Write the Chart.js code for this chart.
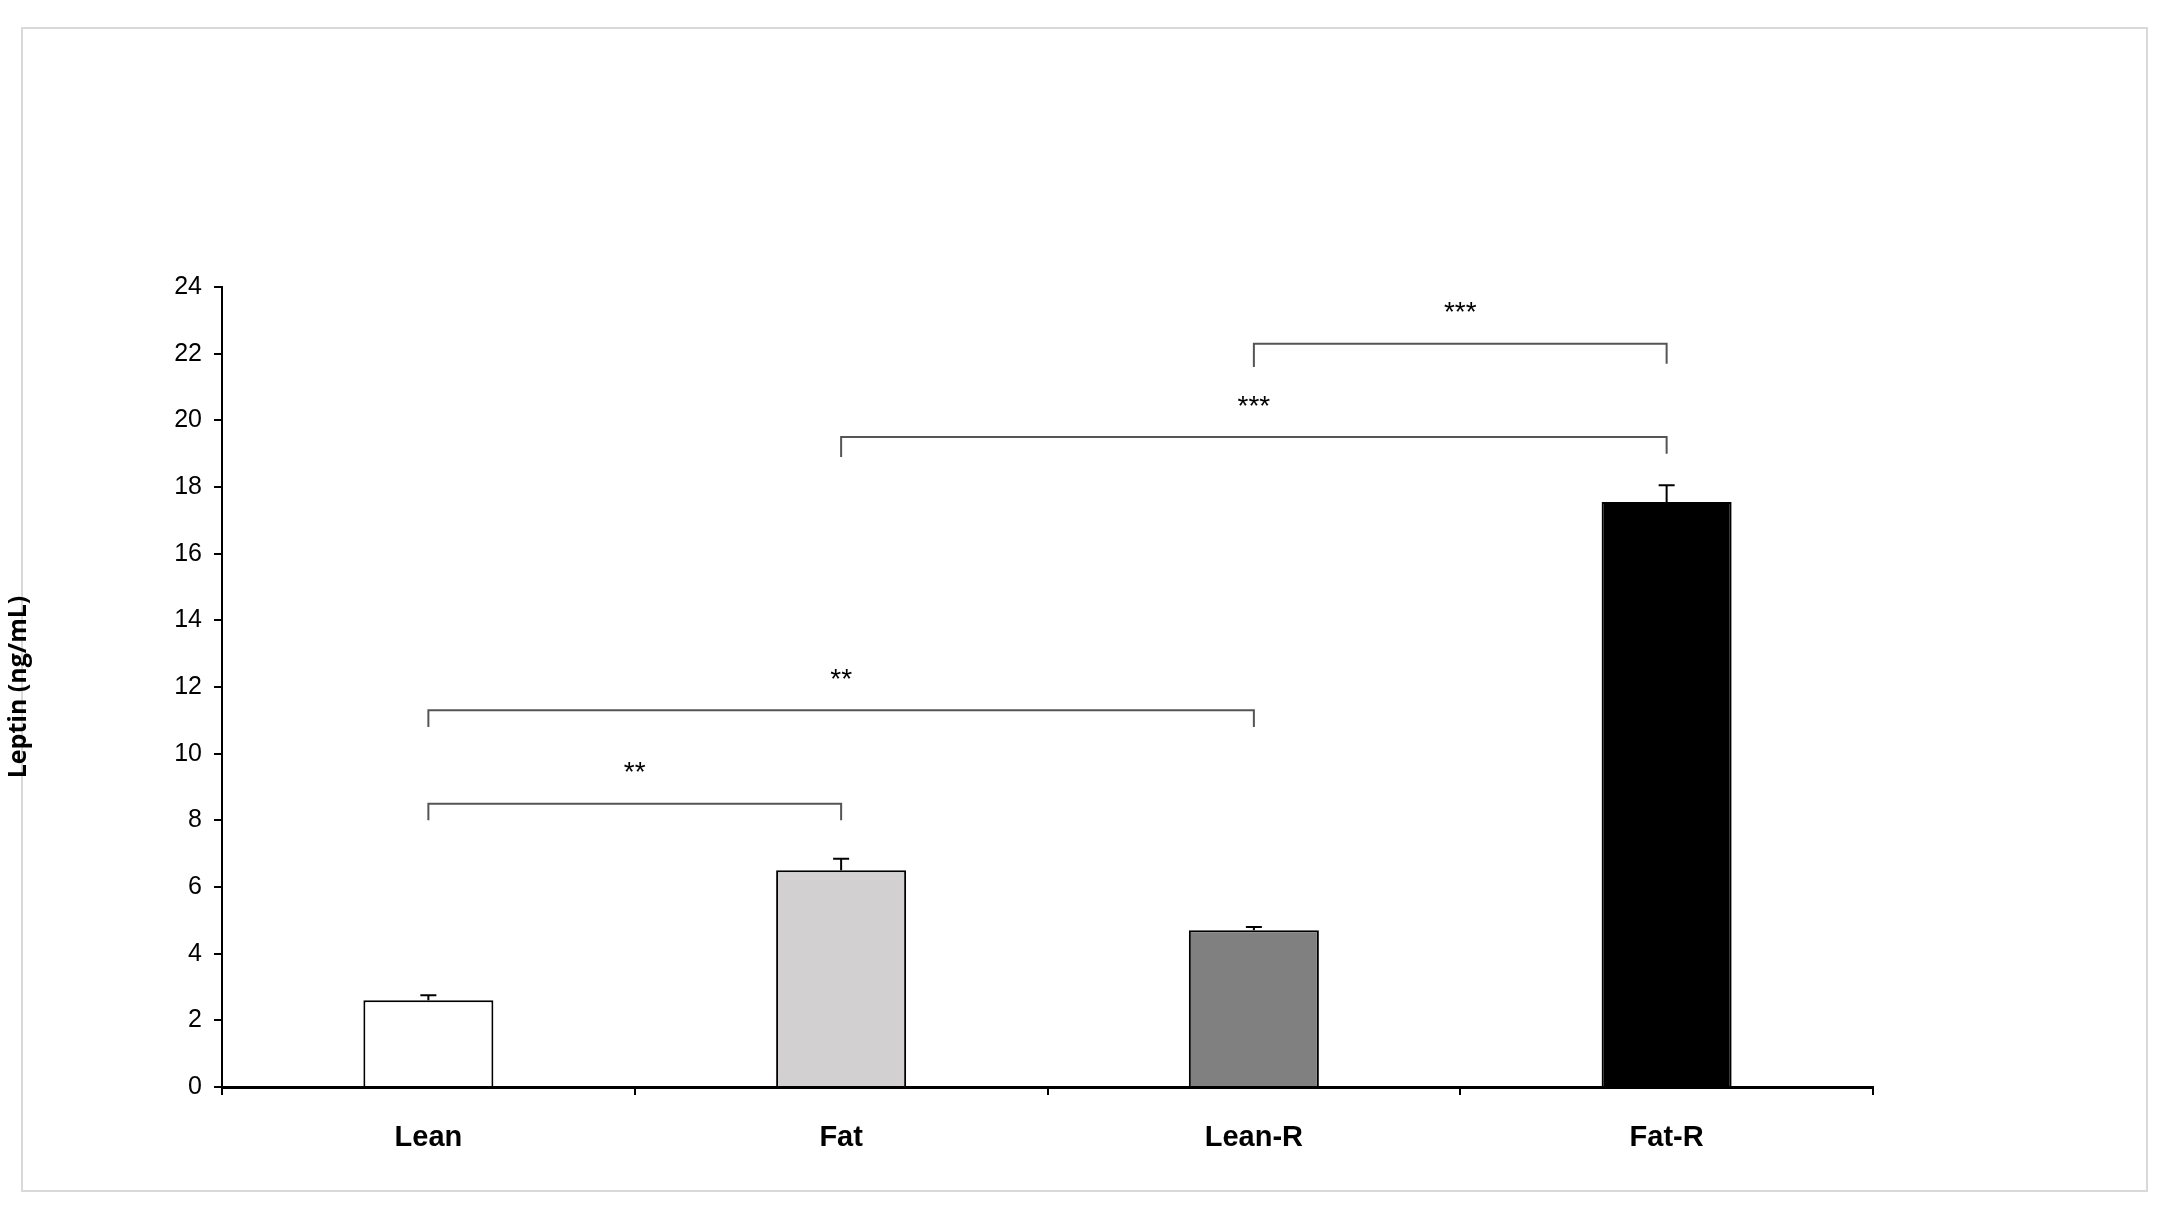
<!DOCTYPE html>
<html><head><meta charset="utf-8">
<script src="https://cdn.jsdelivr.net/npm/chart.js@4"></script>
<style>html,body{margin:0;padding:0;background:#fff}#w{width:2172px;height:1216px}</style>
</head><body><div id="w"><canvas id="c"></canvas></div>
<script>
const categories = ['Lean','Fat','Lean-R','Fat-R'];
const values = [2.6, 6.5, 4.7, 17.55];
const errors = [0.15, 0.35, 0.1, 0.5];
const colors = ['#ffffff','#d3d0d1','#808080','#000000'];
const yTicks = [0,2,4,6,8,10,12,14,16,18,20,22,24];
// brackets: [fromIndex, toIndex, barY, leftLegY, rightLegY, label]
const brackets = [
  [0,1,8.5,8.0,8.0,'**'],
  [0,2,11.3,10.8,10.8,'**'],
  [1,3,19.5,18.9,19.0,'***'],
  [2,3,22.3,21.6,21.7,'***']
];
const overlay = {
  id:'overlay',
  beforeDraw(chart){
    const c=chart.ctx; c.save(); c.strokeStyle='#d9d9d9'; c.lineWidth=2;
    c.strokeRect(22,28,2125,1163); c.restore();
  },
  afterDatasetsDraw(chart){
    const c=chart.ctx, x=chart.scales.x, y=chart.scales.y;
    c.save();
    c.strokeStyle='#000'; c.lineWidth=2;
    values.forEach((v,i)=>{
      const px=x.getPixelForValue(i), t=y.getPixelForValue(v+errors[i]), b=y.getPixelForValue(v);
      c.beginPath(); c.moveTo(px,b); c.lineTo(px,t); c.moveTo(px-8,t); c.lineTo(px+8,t); c.stroke();
    });
    c.strokeStyle='#555'; c.lineWidth=2;
    c.fillStyle='#000'; c.font='28px "Liberation Sans"'; c.textAlign='center'; c.textBaseline='middle';
    brackets.forEach(([a,b,h,l1,l2,s])=>{
      const xa=x.getPixelForValue(a), xb=x.getPixelForValue(b), yh=y.getPixelForValue(h);
      c.beginPath(); c.moveTo(xa,y.getPixelForValue(l1)); c.lineTo(xa,yh); c.lineTo(xb,yh); c.lineTo(xb,y.getPixelForValue(l2)); c.stroke();
      c.fillText(s,(xa+xb)/2,yh-30);
    });
    c.restore();
  }
};
new Chart(document.getElementById('c'),{
  type:'bar',
  data:{labels:categories,datasets:[{data:values,backgroundColor:colors,borderColor:'#000',borderWidth:2,barPercentage:0.315,categoryPercentage:1}]},
  options:{
    responsive:true,maintainAspectRatio:false,animation:false,devicePixelRatio:1,
    layout:{padding:{left:0,right:299,top:287,bottom:0}},
    plugins:{legend:{display:false},tooltip:{enabled:false}},
    scales:{
      x:{
        grid:{display:true,drawOnChartArea:false,drawTicks:true,tickLength:8,color:'#000',lineWidth:2,offset:true},
        border:{color:'#000',width:3},
        ticks:{color:'#000',font:{family:'"Liberation Sans Narrow", "Liberation Sans"',size:29,weight:'bold'},padding:26},
        afterFit(s){s.height=129;}
      },
      y:{
        min:0,max:24,
        afterBuildTicks(s){s.ticks=yTicks.map(v=>({value:v}));},
        grid:{display:true,drawOnChartArea:false,drawTicks:true,tickLength:8,color:'#000',lineWidth:2},
        border:{color:'#000',width:2},
        ticks:{color:'#000',font:{family:'"Liberation Sans Narrow", "Liberation Sans"',size:25},padding:12},
        title:{display:true,text:'Leptin (ng/mL)',color:'#000',font:{family:'"Open Sans"',size:25,weight:'bold'},padding:{bottom:40}},
        afterFit(s){s.width=222;}
      }
    }
  },
  plugins:[overlay]
});
</script></body></html>
